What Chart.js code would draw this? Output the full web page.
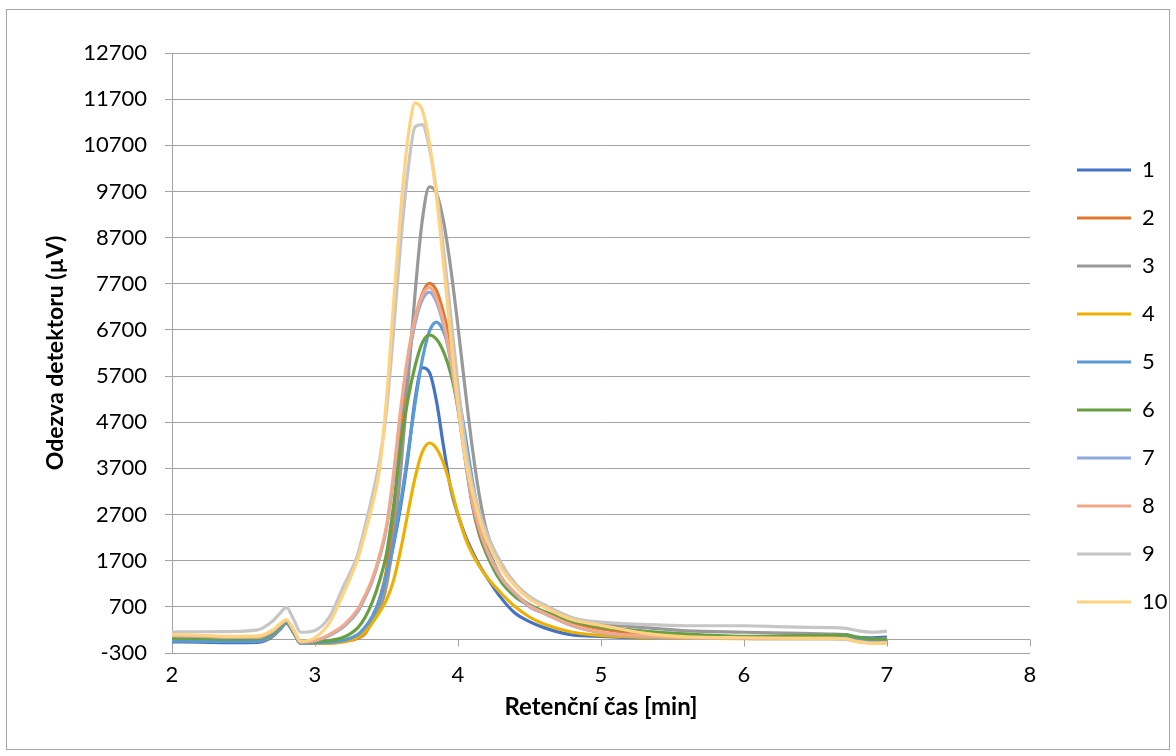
<!DOCTYPE html>
<html><head><meta charset="utf-8">
<script src="https://cdn.jsdelivr.net/npm/chart.js@4.4.1/dist/chart.umd.min.js"></script>
<style>html,body{margin:0;padding:0;background:#fff}canvas{display:block}</style>
</head><body>
<canvas id="c" width="1176" height="756"></canvas>
<script>
// Retention times (min)
const TIMES = [2.0, 2.2, 2.4, 2.6, 2.7, 2.75, 2.8, 2.85, 2.9, 3.0, 3.1, 3.2, 3.3, 3.35, 3.4, 3.45, 3.5, 3.55, 3.6, 3.65, 3.7, 3.75, 3.8, 3.85, 3.9, 3.95, 4.0, 4.05, 4.1, 4.15, 4.2, 4.3, 4.4, 4.5, 4.6, 4.8, 5.0, 5.3, 5.6, 6.0, 6.3, 6.6, 6.7, 6.8, 6.9, 7.0];

// Detector response (µV) for each injection
const S1  = [-60,-65,-75,-70, 50,190,340,140,-90,-90,-80,-40,  80, 250, 480, 830,1350,2050,2900,3950,5200,5880,5780,5150,4150,3250,2690,2250,1900,1600,1350, 900, 560, 380, 250, 90, 60, 30, 30, 40, 60, 90,100, 40, 30, 47];
const S2  = [-20,-25,-35,-30, 90,230,370,160,-80,-85,-80,-50,  20, 120, 400, 850,1500,2700,4500,5950,6900,7480,7710,7550,7050,6350,5200,3950,2900,2250,1850,1300, 980, 740, 580, 360,220,110, 60, 40, 40, 50, 50,-10,-40,-30];
const S3  = [  0, -5,-15,-10,110,250,380,170,-75,-80,-70,-30, 100, 250, 450, 650,1160,2190,3680,5560,7500,9070,9800,9660,9030,8020,6770,5420,4150,3100,2350,1650,1200, 920, 740, 460,340,250,180,150,130,110,100, 20,  0, 10];
const S4  = [-30,-35,-45,-40, 70,210,350,150,-85,-90,-90,-60,  40, 150, 350, 580, 850,1280,1950,2740,3500,4050,4250,4130,3800,3290,2700,2200,1850,1580,1350,1000, 700, 480, 330, 150, 80, 40, 20, 10, 10, 10, 10,-40,-70,-60];
const S5  = [-40,-45,-50,-45, 80,220,360,150,-85,-80,-70,-30, 100, 260, 480, 850,1400,2100,2980,4030,5110,6050,6670,6870,6660,6130,5350,4430,3450,2650,2050,1350, 950, 750, 600, 390,270,170,100, 50, 50, 60, 60,  0,-30,-20];
const S6  = [ 20, 10,  0, 10,130,260,390,180,-70,-60,-30, 40, 250, 470, 800,1250,1850,2900,4200,5200,5920,6420,6590,6500,6220,5750,5000,3950,2950,2300,1850,1250, 920, 730, 600, 390,260,170,110, 60, 70, 85, 90, 40,  5,  3];
const S7  = [ 70, 60, 40, 40,160,290,400,190,-70,-40, 80,270, 600, 900,1250,1750,2400,3500,4900,6050,6850,7350,7520,7300,6780,5980,4980,3900,2950,2370,1930,1330, 980, 700, 560, 290,140, 60, 25, 15, 10, 10,  5,-55,-85,-75];
const S8  = [ 80, 70, 50, 50,170,300,410,200,-60,-30,100,300, 650, 950,1300,1800,2450,3600,5000,6150,6950,7450,7620,7380,6850,6050,5050,3950,3000,2400,1950,1350,1000, 720, 570, 300,150, 70, 30, 20, 15, 15, 10,-50,-80,-70];
const S9  = [155,160,165,200,380,540,690,430,150,190,480,1150,1850,2450,3100,3850,4950,6700,8600,10150,11100,11150,10640,9700,8430,6990,5530,4250,3350,2750,2300,1650,1200, 920, 750, 460,370,320,290,290,265,250,240,180,150,175];
const S10 = [100, 85, 60, 70,190,320,420,210,-50, 30,350,1000,1750,2300,2900,3650,5200,7300,9320,10850,11620,11460,10750,9570,8100,6510,5100,3950,3200,2600,2150,1550,1150, 870, 700, 420,300,130, 50, 30, 20, 15, 10,-60,-90,-85];

const SERIES_NAMES  = ['1', '2', '3', '4', '5', '6', '7', '8', '9', '10'];
const SERIES_VALUES = [S1, S2, S3, S4, S5, S6, S7, S8, S9, S10];
const SERIES_COLORS = ['#4472C4', '#E07830', '#999999', '#EEB000', '#5B9BD5', '#66A040', '#8FAADC', '#F2A98A', '#C6C6C6', '#FFD280'];

const X_TICKS = [2, 3, 4, 5, 6, 7, 8];
const Y_TICKS = [-300, 700, 1700, 2700, 3700, 4700, 5700, 6700, 7700, 8700, 9700, 10700, 11700, 12700];
const X_TITLE = 'Retenční čas [min]';
const Y_TITLE = 'Odezva detektoru (µV)';

const GRID = '#a3a3a3';
const FONT = 'Lato, "Open Sans", sans-serif';

const datasets = SERIES_NAMES.map((name, i) => ({
  label: name,
  data: TIMES.map((t, j) => ({ x: t, y: SERIES_VALUES[i][j] })),
  borderColor: SERIES_COLORS[i],
  backgroundColor: SERIES_COLORS[i],
  borderWidth: 3.2,
  pointRadius: 0,
  cubicInterpolationMode: 'monotone',
  fill: false,
  order: SERIES_NAMES.length - i
}));

const framePlugin = {
  id: 'frame',
  beforeDraw(chart) {
    const c = chart.ctx;
    c.save();
    c.fillStyle = '#ffffff';
    c.fillRect(0, 0, chart.width, chart.height);
    c.strokeStyle = '#a6a6a6';
    c.lineWidth = 1;
    c.strokeRect(6.5, 9.5, 1163, 740);
    c.restore();
  },
  beforeDatasetsDraw(chart) {
    const { ctx, scales: { x, y } } = chart;
    const y0 = Math.round(y.getPixelForValue(0)) + 0.5;
    ctx.save();
    ctx.strokeStyle = GRID;
    ctx.lineWidth = 1;
    ctx.beginPath();
    ctx.moveTo(x.left, y0);
    ctx.lineTo(x.right, y0);
    x.ticks.forEach(t => {
      const px = Math.round(x.getPixelForValue(t.value)) + 0.5;
      ctx.moveTo(px, y0);
      ctx.lineTo(px, y0 + 7);
    });
    ctx.stroke();
    ctx.restore();
  }
};

new Chart(document.getElementById('c'), {
  type: 'line',
  data: { datasets },
  plugins: [framePlugin],
  options: {
    responsive: false,
    animation: false,
    devicePixelRatio: 1,
    layout: { padding: { top: 53, bottom: 37, left: 10, right: 8 } },
    plugins: {
      legend: {
        position: 'right',
        maxWidth: 117,
        labels: {
          usePointStyle: true,
          pointStyle: 'line',
          pointStyleWidth: 54,
          boxHeight: 3,
          padding: 26,
          color: '#000',
          font: { family: FONT, size: 22, lineHeight: 1 },
          sort: (a, b) => a.datasetIndex - b.datasetIndex
        }
      },
      tooltip: { enabled: false }
    },
    scales: {
      x: {
        type: 'linear',
        min: X_TICKS[0],
        max: X_TICKS[X_TICKS.length - 1],
        afterBuildTicks: s => { s.ticks = X_TICKS.map(v => ({ value: v })); },
        grid: { display: false, drawTicks: false, tickLength: 0 },
        border: { display: false },
        ticks: { padding: 11, color: '#000', font: { family: FONT, size: 22, lineHeight: 1 }, maxRotation: 0, callback: v => String(v) },
        title: { display: true, text: X_TITLE, color: '#000', padding: { top: 0, bottom: 0 }, font: { family: FONT, size: 24, weight: 'bold', lineHeight: 1 } },
        afterFit: s => { s.height = 66; }
      },
      y: {
        type: 'linear',
        min: Y_TICKS[0],
        max: Y_TICKS[Y_TICKS.length - 1],
        afterBuildTicks: s => { s.ticks = Y_TICKS.map(v => ({ value: v })); },
        grid: { color: GRID, lineWidth: 1, tickLength: 7, drawTicks: true },
        border: { display: true, color: GRID, width: 1 },
        ticks: { padding: 18, color: '#000', font: { family: FONT, size: 22, lineHeight: 1 }, callback: v => String(v) },
        title: { display: true, text: Y_TITLE, color: '#000', padding: { top: 34, bottom: 0 }, font: { family: FONT, size: 23, weight: 'bold', lineHeight: 1 } },
        afterFit: s => { s.width = 162; }
      },
      gap: {
        type: 'linear',
        position: 'right',
        display: true,
        grid: { display: false, drawTicks: false },
        border: { display: false },
        ticks: { display: false },
        afterFit: s => { s.width = 21; }
      }
    }
  }
});
</script>
</body></html>
